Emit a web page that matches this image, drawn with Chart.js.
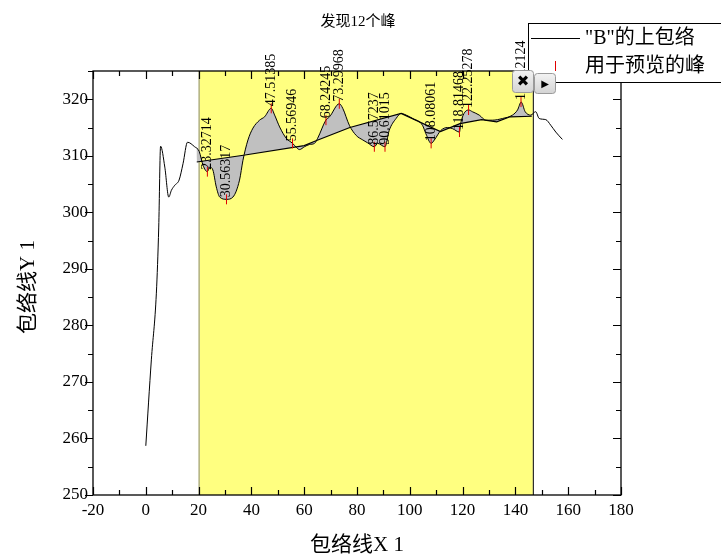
<!DOCTYPE html>
<html lang="zh">
<head>
    <meta charset="UTF-8">
    <title>发现12个峰</title>
    <script src="https://cdn.jsdelivr.net/npm/chart.js@4.4.1/dist/chart.umd.min.js"></script>
    <style>
        body {
            margin: 0;
            padding: 0;
            background-color: #fff;
        }
        .chart-box {
            position: relative;
            width: 721px;
            height: 559px;
        }
    </style>
</head>
<body>
    <div class="chart-box">
        <canvas id="peakChart" width="721" height="559"></canvas>
    </div>
    <script>
        // upper envelope of "B"
        const curveX = [0, 2.1, 4.0, 4.9, 5.6, 7.2, 8.7, 9.7, 11.0, 12.6, 14.1, 15.8, 18.5, 20.2,
            21.7, 23.3, 24.2, 25.4, 26.7, 28.0, 30.6, 33.0, 35.5, 36.8, 38.7, 40.6, 43.1, 45.0,
            47.5, 48.8, 50.7, 53.2, 55.6, 57.0, 58.2, 60.1, 62.0, 63.9, 65.1, 68.2, 69.6, 73.3,
            74.6, 77.1, 79.7, 82.2, 84.0, 86.6, 87.8, 90.6, 92.2, 94.8, 96.7, 98.6, 101.1, 104.8,
            106.1, 108.1, 109.3, 111.8, 114.3, 116.2, 118.8, 119.4, 122.3, 123.7, 126.3, 128.8,
            131.3, 135.1, 138.9, 140.8, 142.2, 143.7, 145.8, 147.7, 149.0, 151.5, 153.4, 155.3, 157.8];
        const curveY = [258.7, 273.9, 285.7, 297.4, 311.7, 308.0, 302.7, 303.9, 304.8, 305.7, 308.6, 312.4, 311.6, 310.8,
            308.3, 307.2, 308.0, 307.5, 304.5, 302.7, 302.3, 302.7, 305.7, 309.2, 312.8, 314.9, 316.3, 316.9,
            318.4, 317.2, 315.1, 313.1, 312.2, 311.5, 311.1, 311.6, 312.0, 312.2, 313.1, 316.3, 316.9, 319.2,
            318.4, 315.4, 313.6, 312.8, 312.3, 311.6, 312.2, 311.6, 314.5, 316.6, 317.5, 317.2, 316.6, 315.4,
            313.9, 312.2, 312.8, 314.5, 315.0, 314.8, 314.2, 316.0, 318.1, 317.8, 317.2, 316.3,
            316.3, 316.6, 317.2, 318.1, 319.5, 317.8, 317.2, 317.8, 316.6, 316.4, 315.4, 314.2, 312.9];

        // baseline anchors
        const baseX = [19.3, 37.0, 60.0, 64.7, 77.3, 96.7, 111.6, 119.0, 127.2, 132.9, 138.0, 146.2];
        const baseY = [308.9, 310.1, 311.8, 312.7, 315.0, 317.5, 314.3, 315.7, 316.4, 316.0, 316.9, 317.0];

        // found peaks
        const peakX = [23.32714, 30.56317, 47.51385, 55.56946, 68.24245, 73.29968,
            86.57237, 90.61015, 108.08061, 118.81468, 122.25278, 142.12124];
        const peakY = [307.2, 302.3, 318.4, 312.2, 316.3, 319.2, 311.6, 311.6, 312.2, 314.2, 318.1, 319.5];

        // peak search range
        const rangeX = [20, 146.6];

        const xTicks = [-20, 0, 20, 40, 60, 80, 100, 120, 140, 160, 180];
        const yTicks = [250, 260, 270, 280, 290, 300, 310, 320];

        const chartTitle = '发现12个峰';
        const xTitle = '包络线X 1';
        const yTitle = '包络线Y 1';
        const legendLabels = ['"B"的上包络', '用于预览的峰'];

        const serif = "'Liberation Serif', 'Times New Roman', 'Noto Sans CJK SC', serif";
        Chart.defaults.font.family = serif;
        Chart.defaults.color = '#000';

        const toPoints = (xs, ys) => xs.map((x, i) => ({ x: x, y: ys[i] }));

        const rangePlugin = {
            id: 'range',
            beforeDraw(chart) {
                const { ctx, chartArea, scales } = chart;
                const x1 = scales.x.getPixelForValue(rangeX[0]);
                const x2 = scales.x.getPixelForValue(rangeX[1]);
                ctx.save();
                ctx.fillStyle = '#ffff80';
                ctx.fillRect(x1, chartArea.top, x2 - x1, chartArea.bottom - chartArea.top);
                ctx.lineWidth = 1;
                ctx.strokeStyle = '#888';
                ctx.beginPath();
                ctx.moveTo(x1 + 0.5, chartArea.top);
                ctx.lineTo(x1 + 0.5, chartArea.bottom);
                ctx.stroke();
                ctx.strokeStyle = '#000';
                ctx.beginPath();
                ctx.moveTo(x2 + 0.5, chartArea.top);
                ctx.lineTo(x2 + 0.5, chartArea.bottom);
                ctx.stroke();
                ctx.restore();
            }
        };

        const decorPlugin = {
            id: 'decor',
            afterDatasetsDraw(chart) {
                const { ctx, scales } = chart;
                // peak labels, rotated
                ctx.save();
                ctx.fillStyle = '#000';
                ctx.font = '14px ' + serif;
                ctx.textBaseline = 'middle';
                ctx.textAlign = 'left';
                peakX.forEach((v, i) => {
                    const px = scales.x.getPixelForValue(v);
                    const py = scales.y.getPixelForValue(peakY[i]);
                    ctx.save();
                    ctx.translate(px, py - 2);
                    ctx.rotate(-Math.PI / 2);
                    ctx.fillText(String(v), 0, 0);
                    ctx.restore();
                });
                ctx.restore();
            },
            afterDraw(chart) {
                const { ctx, chartArea: a, scales } = chart;
                ctx.save();
                ctx.strokeStyle = '#000';
                ctx.lineWidth = 1.3;
                ctx.strokeRect(a.left, a.top, a.right - a.left, a.bottom - a.top);
                ctx.lineWidth = 1.2;
                ctx.beginPath();
                // x ticks: inward on bottom and top
                for (let v = -20; v <= 180; v += 10) {
                    const px = Math.round(scales.x.getPixelForValue(v)) + 0.5;
                    const len = v % 20 === 0 ? 8 : 5;
                    ctx.moveTo(px, a.bottom);
                    ctx.lineTo(px, a.bottom - len);
                    ctx.moveTo(px, a.top);
                    ctx.lineTo(px, a.top + len);
                }
                // y ticks: outward on left, inward on right
                for (let v = 250; v <= 325; v += 5) {
                    const py = Math.round(scales.y.getPixelForValue(v)) + 0.5;
                    const len = v % 10 === 0 ? 8 : 5;
                    ctx.moveTo(a.left, py);
                    ctx.lineTo(a.left - len, py);
                    ctx.moveTo(a.right, py);
                    ctx.lineTo(a.right - len, py);
                }
                ctx.stroke();

                // titles
                ctx.fillStyle = '#000';
                ctx.textAlign = 'center';
                ctx.textBaseline = 'middle';
                ctx.font = '15px ' + serif;
                ctx.fillText(chartTitle, 358, 22);
                ctx.font = '21px ' + serif;
                ctx.fillText(xTitle, (a.left + a.right) / 2 + 0, 545);
                ctx.save();
                ctx.translate(28, (a.top + a.bottom) / 2 + 4);
                ctx.rotate(-Math.PI / 2);
                ctx.fillText(yTitle, 0, 0);
                ctx.restore();

                // legend
                ctx.fillStyle = '#fff';
                ctx.fillRect(528.5, 23.5, 200, 59);
                ctx.lineWidth = 1;
                ctx.strokeRect(528.5, 23.5, 200, 59);
                ctx.beginPath();
                ctx.moveTo(531, 38.5);
                ctx.lineTo(580, 38.5);
                ctx.stroke();
                ctx.strokeStyle = '#e00000';
                ctx.beginPath();
                ctx.moveTo(555.5, 61);
                ctx.lineTo(555.5, 71);
                ctx.stroke();
                ctx.fillStyle = '#000';
                ctx.textAlign = 'left';
                ctx.font = '20px ' + serif;
                ctx.fillText(legendLabels[0], 585, 39);
                ctx.fillText(legendLabels[1], 585, 67);

                // little buttons
                const button = (x, y, w, h, glyph, size) => {
                    const g = ctx.createLinearGradient(0, y, 0, y + h);
                    g.addColorStop(0, '#f4f4f4');
                    g.addColorStop(1, '#d4d4d4');
                    ctx.fillStyle = g;
                    ctx.strokeStyle = '#9a9a9a';
                    ctx.lineWidth = 1;
                    ctx.beginPath();
                    ctx.roundRect(x + 0.5, y + 0.5, w, h, 3);
                    ctx.fill();
                    ctx.stroke();
                    ctx.fillStyle = '#000';
                    ctx.textAlign = 'center';
                    ctx.font = 'bold ' + size + "px 'DejaVu Sans', sans-serif";
                    ctx.fillText(glyph, x + w / 2 + 0.5, y + h / 2 + 1);
                };
                button(512, 70, 21, 22, '✖', 15);
                button(534, 73, 21, 20, '▶', 10);
                ctx.restore();
            }
        };

        const ctx = document.getElementById('peakChart').getContext('2d');
        new Chart(ctx, {
            type: 'line',
            data: {
                datasets: [{
                    label: legendLabels[0],
                    data: toPoints(curveX, curveY),
                    borderColor: '#000',
                    borderWidth: 1,
                    pointRadius: 0,
                    cubicInterpolationMode: 'monotone',
                    fill: { target: 1, above: '#c0c0c0', below: '#c0c0c0' },
                    order: 3
                }, {
                    label: 'baseline',
                    data: toPoints(baseX, baseY),
                    borderColor: '#000',
                    borderWidth: 1.2,
                    pointRadius: 0,
                    tension: 0,
                    fill: false,
                    order: 2
                }, {
                    type: 'scatter',
                    label: legendLabels[1],
                    data: toPoints(peakX, peakY),
                    showLine: false,
                    pointStyle: 'line',
                    rotation: 90,
                    pointRadius: 5,
                    borderColor: '#e00000',
                    borderWidth: 1,
                    order: 1
                }]
            },
            options: {
                responsive: false,
                animation: false,
                devicePixelRatio: 1,
                layout: { padding: { top: 71, right: 100, left: 0, bottom: 0 } },
                plugins: {
                    legend: { display: false },
                    tooltip: { enabled: false }
                },
                scales: {
                    x: {
                        type: 'linear',
                        min: -20,
                        max: 180,
                        afterBuildTicks: s => { s.ticks = xTicks.map(v => ({ value: v })); },
                        afterFit: s => { s.height = 64; },
                        grid: { display: false, drawTicks: false },
                        border: { display: false },
                        ticks: { font: { size: 17 }, padding: 5, maxRotation: 0, autoSkip: false }
                    },
                    y: {
                        type: 'linear',
                        min: 250,
                        max: 325,
                        afterBuildTicks: s => { s.ticks = yTicks.map(v => ({ value: v })); },
                        afterFit: s => { s.width = 93; },
                        grid: { display: false, drawTicks: false },
                        border: { display: false },
                        ticks: { font: { size: 17 }, padding: 5, autoSkip: false }
                    }
                }
            },
            plugins: [rangePlugin, decorPlugin]
        });
    </script>
</body>
</html>
